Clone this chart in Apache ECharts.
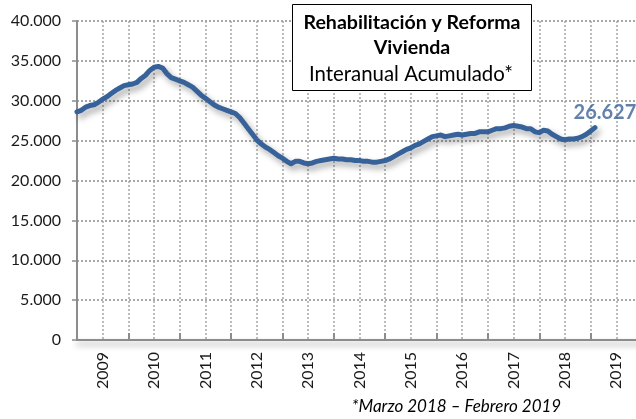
<!DOCTYPE html>
<html>
<head>
    <meta charset="utf-8">
    <title>Rehabilitación y Reforma Vivienda</title>
    <script src="https://cdn.jsdelivr.net/npm/echarts@6/dist/echarts.min.js"></script>
    <style type="text/css">
        html, body { margin: 0; padding: 0; background: #fff; }
        #main { width: 636px; height: 419px; }
    </style>
</head>
<body>
<div id="main"></div>
<script type="text/javascript">
    // serie mensual, ene 2009 - feb 2019 (interanual acumulado)
    var startYear = 2009;
    var valores = [
        28600, 28800, 29200, 29400, 29500, 29800, 30200, 30500, 30900, 31300, 31600, 31900,
        32000, 32100, 32300, 32800, 33200, 33800, 34200, 34300, 34100, 33400, 32900, 32700,
        32500, 32300, 32000, 31700, 31200, 30700, 30300, 29900, 29500, 29200, 29000, 28800,
        28600, 28400, 27900, 27200, 26500, 25800, 25100, 24600, 24200, 23900, 23500, 23100,
        22800, 22400, 22100, 22400, 22400, 22200, 22100, 22200, 22400, 22500, 22600, 22700,
        22800, 22700, 22700, 22600, 22600, 22500, 22500, 22400, 22400, 22300, 22300, 22400,
        22500, 22700, 23000, 23300, 23600, 23900, 24100, 24400, 24600, 24900, 25200, 25500,
        25600, 25700, 25500, 25600, 25700, 25800, 25700, 25800, 25900, 25900, 26100, 26100,
        26100, 26300, 26500, 26500, 26600, 26800, 26900, 26800, 26700, 26500, 26500, 26100,
        26000, 26300, 26200, 25800, 25500, 25200, 25100, 25200, 25200, 25300, 25500, 25800,
        26200, 26627
    ];
    var anios = [2009, 2010, 2011, 2012, 2013, 2014, 2015, 2016, 2017, 2018, 2019];
    var yTicks = [0, 5000, 10000, 15000, 20000, 25000, 30000, 35000, 40000];

    function miles(v) {
        return String(Math.round(v)).replace(/\B(?=(\d{3})+(?!\d))/g, '.');
    }

    var datos = valores.map(function (v, i) {
        return [startYear + i / 12, v];
    });
    var ultimo = datos[datos.length - 1];

    var gris = '#8c8c8c';
    var chart = echarts.init(document.getElementById('main'));
    chart.setOption({
        animation: false,
        grid: {left: 77, right: -6, top: 21, bottom: 79, outerBoundsMode: 'none'},
        xAxis: [{
            type: 'value',
            min: anios[0],
            max: anios[anios.length - 1] + 1,
            interval: 0.5,
            axisLine: {lineStyle: {color: gris, width: 2, shadowColor: 'rgba(0,0,0,0.4)', shadowBlur: 6, shadowOffsetY: 4}},
            axisTick: {show: false},
            splitLine: {show: true, lineStyle: {color: '#a6a6a6', width: 1.5, type: [2, 2]}},
            axisLabel: {
                rotate: 90,
                margin: 12,
                fontFamily: 'Lato',
                fontSize: 16,
                color: '#1a1a1a',
                showMinLabel: true,
                showMaxLabel: true,
                formatter: function (v) {
                    var y = Math.floor(v);
                    return (Math.abs(v - y - 0.5) < 1e-6 && anios.indexOf(y) >= 0) ? String(y) : '';
                }
            }
        }, {
            type: 'value',
            position: 'bottom',
            min: anios[0],
            max: anios[anios.length - 1] + 1,
            interval: 1,
            axisLine: {show: false},
            axisTick: {show: true, inside: true, length: 7, lineStyle: {color: gris, width: 2}},
            axisLabel: {show: false},
            splitLine: {show: false}
        }],
        yAxis: {
            type: 'value',
            min: yTicks[0],
            max: yTicks[yTicks.length - 1],
            interval: 5000,
            axisLine: {show: true, lineStyle: {color: gris, width: 2}},
            axisTick: {show: true, length: 5, lineStyle: {color: gris, width: 1.5}},
            splitLine: {show: true, lineStyle: {color: '#8c8c8c', width: 1.5, type: [2, 2]}},
            axisLabel: {
                margin: 16,
                fontFamily: 'Lato',
                fontSize: 16,
                color: '#1a1a1a',
                formatter: function (v) { return miles(v); }
            }
        },
        series: [{
            type: 'line',
            xAxisIndex: 0,
            data: datos,
            showSymbol: false,
            symbol: 'none',
            lineStyle: {
                color: '#376199',
                width: 5,
                join: 'round',
                cap: 'round',
                shadowColor: 'rgba(0,0,0,0.35)',
                shadowBlur: 6,
                shadowOffsetX: 3,
                shadowOffsetY: 4
            },
            z: 5
        }, {
            // etiqueta del último dato
            type: 'scatter',
            xAxisIndex: 0,
            data: [ultimo],
            symbolSize: 1,
            itemStyle: {color: 'rgba(0,0,0,0)'},
            silent: true,
            z: 6,
            label: {
                show: true,
                position: 'top',
                distance: 5,
                offset: [10, 0],
                formatter: function (o) { return miles(o.value[1]); },
                fontFamily: 'Lato',
                fontWeight: 'bold',
                fontSize: 20,
                color: '#3b6397'
            }
        }],
        graphic: [{
            type: 'rect',
            z: 100,
            shape: {x: 292.5, y: 4.5, width: 239, height: 86},
            style: {fill: '#fff', stroke: '#000', lineWidth: 1}
        }, {
            type: 'text',
            z: 101,
            x: 412, y: 23,
            style: {text: 'Rehabilitación y Reforma', align: 'center', verticalAlign: 'middle',
                font: 'bold 19.6px Lato', fill: '#000'}
        }, {
            type: 'text',
            z: 101,
            x: 412, y: 48,
            style: {text: 'Vivienda', align: 'center', verticalAlign: 'middle',
                font: 'bold 19.6px Lato', fill: '#000'}
        }, {
            type: 'text',
            z: 101,
            x: 411, y: 74,
            style: {text: 'Interanual Acumulado*', align: 'center', verticalAlign: 'middle',
                font: '20.4px Lato', fill: '#000'}
        }, {
            type: 'text',
            z: 101,
            x: 456.5, y: 407,
            style: {text: '*Marzo 2018 \u2013 Febrero 2019', align: 'center', verticalAlign: 'middle',
                font: 'italic 17px Lato', fill: '#000'}
        }]
    });
</script>
</body>
</html>
